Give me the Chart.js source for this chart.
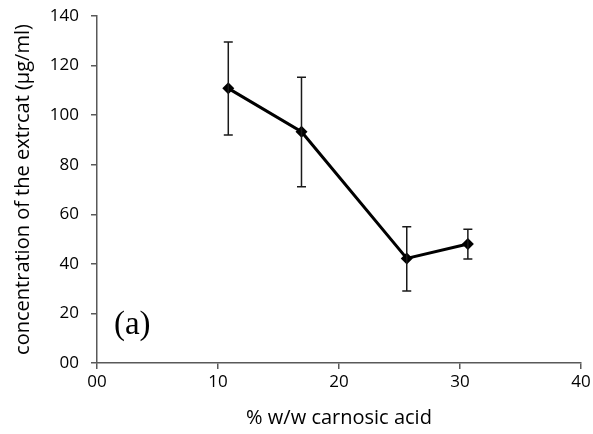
<!DOCTYPE html>
<html><head><meta charset="utf-8">
<script src="https://cdn.jsdelivr.net/npm/chart.js@4"></script>
<style>html,body{margin:0;padding:0;background:#fff;overflow:hidden;}</style>
</head><body><canvas id="c" width="593" height="434"></canvas>
<script>
const xValues = [10.85, 16.9, 25.6, 30.65];
const yValues = [110.8, 93.3, 42.2, 48.0];
const errLow = [92.0, 71.1, 29.0, 42.0];
const errHigh = [129.5, 115.3, 55.0, 54.0];
const xTicks = [0, 10, 20, 30, 40];
const yTicks = [0, 20, 40, 60, 80, 100, 120, 140];

const FONT = "'Open Sans', sans-serif";

const errorBars = {
  id: 'errorBars',
  afterDatasetsDraw(chart) {
    const ctx = chart.ctx, xs = chart.scales.x, ys = chart.scales.y;
    ctx.save();
    ctx.strokeStyle = '#1a1a1a';
    ctx.lineWidth = 1.5;
    for (let i = 0; i < xValues.length; i++) {
      const px = xs.getPixelForValue(xValues[i]);
      const pt = ys.getPixelForValue(errHigh[i]);
      const pb = ys.getPixelForValue(errLow[i]);
      ctx.beginPath();
      ctx.moveTo(px, pt); ctx.lineTo(px, pb);
      ctx.moveTo(px - 4.5, pt); ctx.lineTo(px + 4.5, pt);
      ctx.moveTo(px - 4.5, pb); ctx.lineTo(px + 4.5, pb);
      ctx.stroke();
    }
    ctx.restore();
  }
};

const annot = {
  id: 'annot',
  afterDraw(chart) {
    const ctx = chart.ctx, xs = chart.scales.x, ys = chart.scales.y;
    ctx.save();
    ctx.fillStyle = '#000';
    ctx.font = "33px 'Liberation Serif', serif";
    ctx.textBaseline = 'alphabetic';
    ctx.fillText('(a)', xs.getPixelForValue(1.4), ys.getPixelForValue(11.7));
    ctx.restore();
  }
};

new Chart(document.getElementById('c'), {
  type: 'scatter',
  data: {
    datasets: [{
      data: xValues.map((x, i) => ({ x: x, y: yValues[i] })),
      showLine: true,
      borderColor: '#000',
      backgroundColor: '#000',
      borderWidth: 3,
      pointStyle: 'rectRot',
      pointRadius: 6,
      pointHoverRadius: 6,
      pointBorderWidth: 0
    }]
  },
  options: {
    responsive: false,
    animation: false,
    devicePixelRatio: 1,
    layout: { padding: { left: 0, right: 12, top: 16, bottom: 0 } },
    plugins: { legend: { display: false }, tooltip: { enabled: false } },
    scales: {
      x: {
        type: 'linear', min: 0, max: 40,
        afterBuildTicks: s => { s.ticks = xTicks.map(v => ({ value: v })); },
        afterFit: s => { s.height = 71; s.paddingLeft = 0; s.paddingRight = 0; },
        ticks: { callback: v => v === 0 ? '00' : String(v), color: '#000', font: { family: FONT, size: 17 }, padding: 3, maxRotation: 0 },
        grid: { drawOnChartArea: false, drawTicks: true, tickLength: 6, color: '#595959', lineWidth: 1.5 },
        border: { color: '#595959', width: 1.5 },
        title: { display: true, text: '% w/w carnosic acid', color: '#000', font: { family: FONT, size: 20 }, padding: { top: 4 } }
      },
      y: {
        type: 'linear', min: 0, max: 140,
        afterBuildTicks: s => { s.ticks = yTicks.map(v => ({ value: v })); },
        afterFit: s => { s.width = 97; s.paddingTop = 0; s.paddingBottom = 0; },
        ticks: { callback: v => v === 0 ? '00' : String(v), color: '#000', font: { family: FONT, size: 17 }, padding: 12 },
        grid: { drawOnChartArea: false, drawTicks: true, tickLength: 6, color: '#595959', lineWidth: 1.5 },
        border: { color: '#595959', width: 1.5 },
        title: { display: true, text: 'concentration of the extrcat (µg/ml)', color: '#000', font: { family: FONT, size: 20 }, padding: { top: 11, bottom: 6 } }
      }
    }
  },
  plugins: [errorBars, annot]
});
</script>
</body></html>
